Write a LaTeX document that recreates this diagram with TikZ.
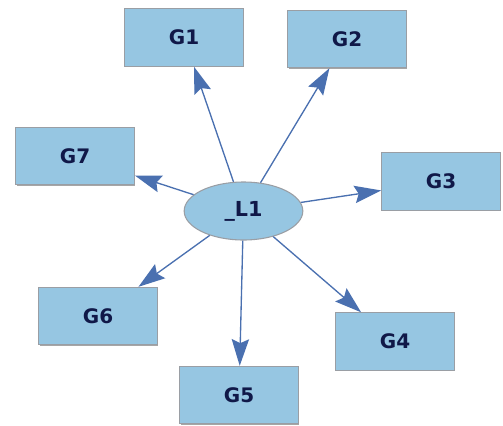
\documentclass[tikz,border=0pt]{standalone}
\usepackage{fontspec}
\setmainfont{DejaVu Sans}
\usetikzlibrary{arrows.meta,shapes.geometric,shadows}
\definecolor{boxfill}{HTML}{96C6E2}
\definecolor{boxdraw}{HTML}{9A9EA4}
\definecolor{txt}{HTML}{101848}
\definecolor{arrowc}{HTML}{4A70B0}
\tikzset{
  gbox/.style={rectangle, fill=boxfill, draw=boxdraw, line width=0.8pt,
    minimum width=89pt, minimum height=43pt, inner sep=0pt,
    font=\fontsize{15}{17}\selectfont\bfseries, text=txt,
    drop shadow={shadow xshift=0.7pt, shadow yshift=-0.7pt, fill=gray!70, opacity=1}},
  lat/.style={ellipse, fill=boxfill, draw=boxdraw, line width=0.8pt,
    minimum width=89pt, minimum height=43.5pt, inner sep=0pt,
    font=\fontsize{15.5}{17}\selectfont\bfseries, text=txt},
  arr/.style={draw=arrowc, line width=1pt,
    -{Stealth[length=20pt, width=13pt, inset=3pt, fill=arrowc]}}
}
\begin{document}
\begin{tikzpicture}[x=0.75pt, y=-0.75pt]
\useasboundingbox (0,0) rectangle (503,425);
\node[gbox] (G1) at (184,37.5) {G1};
\node[gbox] (G2) at (347,39) {G2};
\node[gbox] (G7) at (75,156) {G7};
\node[gbox] (G3) at (441,181.5) {G3};
\node[gbox] (G6) at (98,316) {G6};
\node[gbox] (G4) at (395,341.5) {G4};
\node[gbox] (G5) at (239,395) {G5};
\node[lat] (L1) at (243.5,211) {\_L1};
\foreach \g in {G1,G2,G3,G4,G5,G6,G7}
  \draw[arr] (L1) -- (\g);
\end{tikzpicture}
\end{document}
